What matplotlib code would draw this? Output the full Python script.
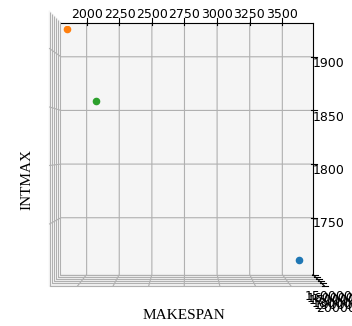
import matplotlib
matplotlib.use("Agg")
import matplotlib.pyplot as plt

# Three solutions: makespan, max interval, total cost
makespan = [3612, 1926, 2074]
intmax = [1712, 1917, 1859]
cost = [158000, 200000, 150000]
colors = ["#1f77b4", "#ff7f0e", "#2ca02c"]
xticks = [2000, 2250, 2500, 2750, 3000, 3250, 3500]
yticks = [1750, 1800, 1850, 1900]

fig = plt.figure(figsize=(3.52, 3.26), dpi=100)
ax = fig.add_axes([0.134, 0.149, 0.775, 0.77], projection="3d")
for x, y, z, c in zip(makespan, intmax, cost, colors):
    ax.scatter([x], [y], [z], color=c, depthshade=False)

ax.view_init(elev=90, azim=-90)
ax.set_proj_type("persp", focal_length=1.63)
ax.set_box_aspect(None, zoom=1.63)
ax.set_xticks(xticks)
ax.set_yticks(yticks)
ax.tick_params(labelsize=9)
ax.xaxis.set_tick_params(pad=-2.5)
ax.yaxis.set_tick_params(pad=-2)
ax.zaxis.set_tick_params(pad=-2.5)


# Keep the side panes on the low-x / low-y sides when looking straight down
def _low_side(orig):
    def wrapped():
        mins, maxs, bounds_proj, highs = orig()
        highs = highs.copy()
        highs[0] = False
        highs[1] = False
        return mins, maxs, bounds_proj, highs
    return wrapped


for axis in (ax.xaxis, ax.yaxis, ax.zaxis):
    axis._get_coord_info = _low_side(axis._get_coord_info)

fig.text(0.523, 0.022, "MAKESPAN", family="Liberation Serif", fontsize=11, ha="center")
fig.text(0.077, 0.448, "INTMAX", family="Liberation Serif", fontsize=11,
         rotation=90, va="center", ha="center")

fig.savefig("out.png", dpi=100)
